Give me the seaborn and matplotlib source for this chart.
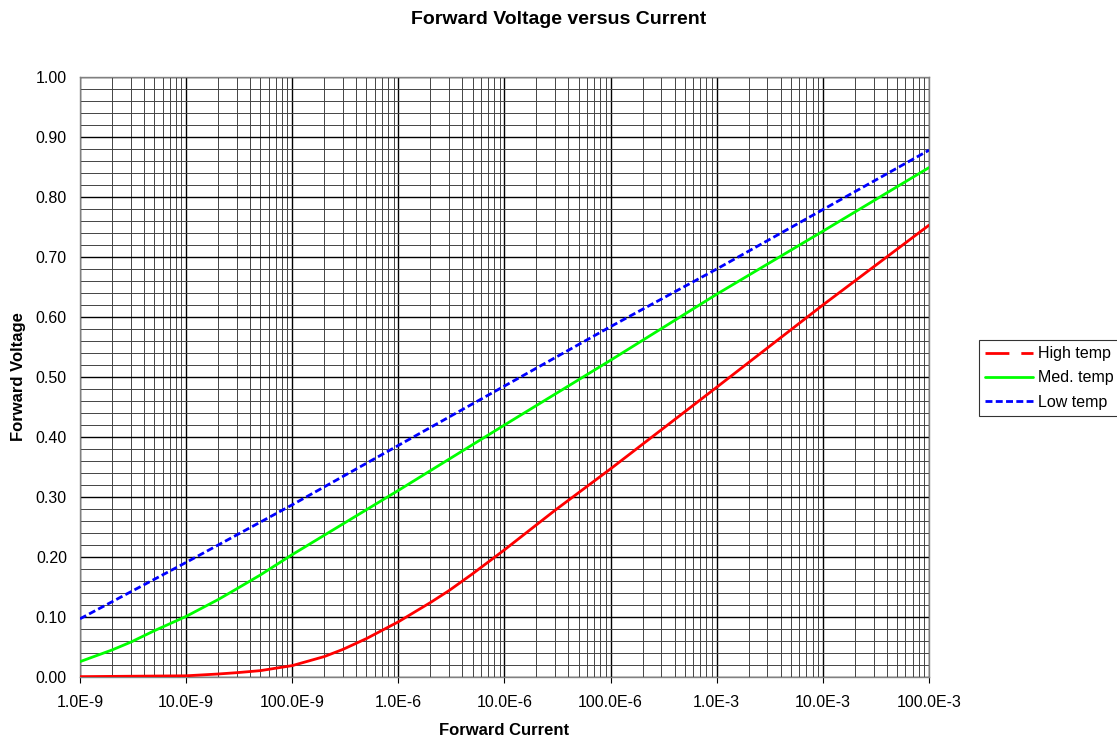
import numpy as np
import pandas as pd
import matplotlib
matplotlib.use("Agg")
import matplotlib.pyplot as plt
from matplotlib.lines import Line2D
from matplotlib.ticker import FixedLocator, LogLocator, MultipleLocator, NullFormatter, FormatStrFormatter
import seaborn as sns

# ---- data ----
current_high = [1e-9, 1e-8, 2e-8, 3e-8, 5e-8, 1e-7, 2e-7, 3e-7, 5e-7, 1e-6, 2e-6,
                3e-6, 5e-6, 1e-5, 3e-5, 1e-4, 1e-3, 1e-2, 1e-1]
volt_high = [0.0006, 0.002, 0.005, 0.0072, 0.0106, 0.019, 0.034, 0.046, 0.064, 0.092, 0.124,
             0.144, 0.172, 0.212, 0.278, 0.347, 0.483, 0.620, 0.753]

current_med = [1e-9, 2e-9, 3e-9, 5e-9, 1e-8, 2e-8, 3e-8, 5e-8, 1e-7, 1e-6, 1e-5, 1e-4, 1e-3, 1e-2, 1e-1]
volt_med = [0.0256, 0.045, 0.058, 0.077, 0.101, 0.129, 0.147, 0.170, 0.204, 0.311, 0.420,
            0.528, 0.638, 0.743, 0.849]

current_low = [1e-9, 1e-8, 1e-7, 1e-6, 1e-5, 1e-4, 1e-3, 1e-2, 1e-1]
volt_low = [0.097, 0.191, 0.287, 0.386, 0.485, 0.584, 0.680, 0.779, 0.878]

series_names = ["High temp", "Med. temp", "Low temp"]
x_tick_values = [1e-9, 1e-8, 1e-7, 1e-6, 1e-5, 1e-4, 1e-3, 1e-2, 1e-1]
x_tick_labels = ["1.0E-9", "10.0E-9", "100.0E-9", "1.0E-6", "10.0E-6",
                 "100.0E-6", "1.0E-3", "10.0E-3", "100.0E-3"]

df = pd.concat([
    pd.DataFrame({"current": current_high, "voltage": volt_high, "series": series_names[0]}),
    pd.DataFrame({"current": current_med, "voltage": volt_med, "series": series_names[1]}),
    pd.DataFrame({"current": current_low, "voltage": volt_low, "series": series_names[2]}),
])

sns.set_style("white")
plt.rcParams["font.family"] = ["Liberation Sans", "DejaVu Sans"]
plt.rcParams["text.color"] = "#000000"
plt.rcParams["axes.labelcolor"] = "#000000"
plt.rcParams["xtick.color"] = "#000000"
plt.rcParams["ytick.color"] = "#000000"

fig = plt.figure(figsize=(11.17, 7.40), dpi=100)
ax = fig.add_axes([80 / 1117, 63 / 740, 849 / 1117, 600 / 740])

colors = {"High temp": "#ff0000", "Med. temp": "#00ff00", "Low temp": "#0000ff"}
lw = 2.0
blue_dash = (0, (2.5, 1.2))
sns.lineplot(data=df[df.series == "High temp"], x="current", y="voltage", ax=ax,
             color=colors["High temp"], lw=lw, legend=False, zorder=5)
sns.lineplot(data=df[df.series == "Med. temp"], x="current", y="voltage", ax=ax,
             color=colors["Med. temp"], lw=lw, legend=False, zorder=5)
sns.lineplot(data=df[df.series == "Low temp"], x="current", y="voltage", ax=ax,
             color=colors["Low temp"], lw=lw, legend=False, zorder=5,
             linestyle=blue_dash)

ax.set_xscale("log")
ax.set_xlim(1e-9, 1e-1)
ax.set_ylim(0, 1.0)

ax.xaxis.set_major_locator(FixedLocator(x_tick_values))
ax.set_xticklabels(x_tick_labels)
ax.xaxis.set_minor_locator(LogLocator(base=10, subs=np.arange(2, 10), numticks=100))
ax.xaxis.set_minor_formatter(NullFormatter())
ax.yaxis.set_major_locator(MultipleLocator(0.1))
ax.yaxis.set_minor_locator(MultipleLocator(0.02))
ax.yaxis.set_major_formatter(FormatStrFormatter("%.2f"))

ax.grid(which="major", color="#000000", lw=1.0, zorder=1)
ax.grid(which="minor", color="#444444", lw=0.7, zorder=1)
ax.set_axisbelow(True)

ax.tick_params(axis="x", which="major", direction="out", length=4.3, width=0.8,
               color="#000000", labelcolor="#000000", labelsize=11.5, pad=8.5, bottom=True)
ax.tick_params(axis="y", which="major", length=0, labelcolor="#000000",
               labelsize=11.5, pad=9.4, left=True)
ax.tick_params(axis="both", which="minor", length=0)
for s in ax.spines.values():
    s.set_color("#808080")
    s.set_linewidth(1.0)

ax.set_xlabel("Forward Current", fontsize=12, fontweight="bold", color="#000000")
ax.set_ylabel("Forward Voltage", fontsize=12, fontweight="bold", color="#000000")
ax.xaxis.set_label_coords(0.5, -(723 - 677) / 600)
ax.yaxis.set_label_coords((26 - 80) / 849, 0.5)
fig.text(559 / 1117, 1 - 19 / 740, "Forward Voltage versus Current",
         ha="center", va="center", fontsize=14, fontweight="bold", color="#000000")

handles = [
    Line2D([], [], color=colors["High temp"], lw=lw, linestyle=(0, (8.6, 4.3))),
    Line2D([], [], color=colors["Med. temp"], lw=lw),
    Line2D([], [], color=colors["Low temp"], lw=lw, linestyle=blue_dash),
]
leg = fig.legend(handles, series_names, loc="upper left",
                 bbox_to_anchor=(979 / 1117, 1 - 340 / 740),
                 fontsize=11.5, frameon=True, fancybox=False, handlelength=3.0,
                 handletextpad=0.3, borderpad=0.4, labelspacing=0.57,
                 borderaxespad=0, labelcolor="#000000")
leg.get_frame().set_edgecolor("#000000")
leg.get_frame().set_linewidth(0.8)

fig.savefig("out.png", dpi=100)
